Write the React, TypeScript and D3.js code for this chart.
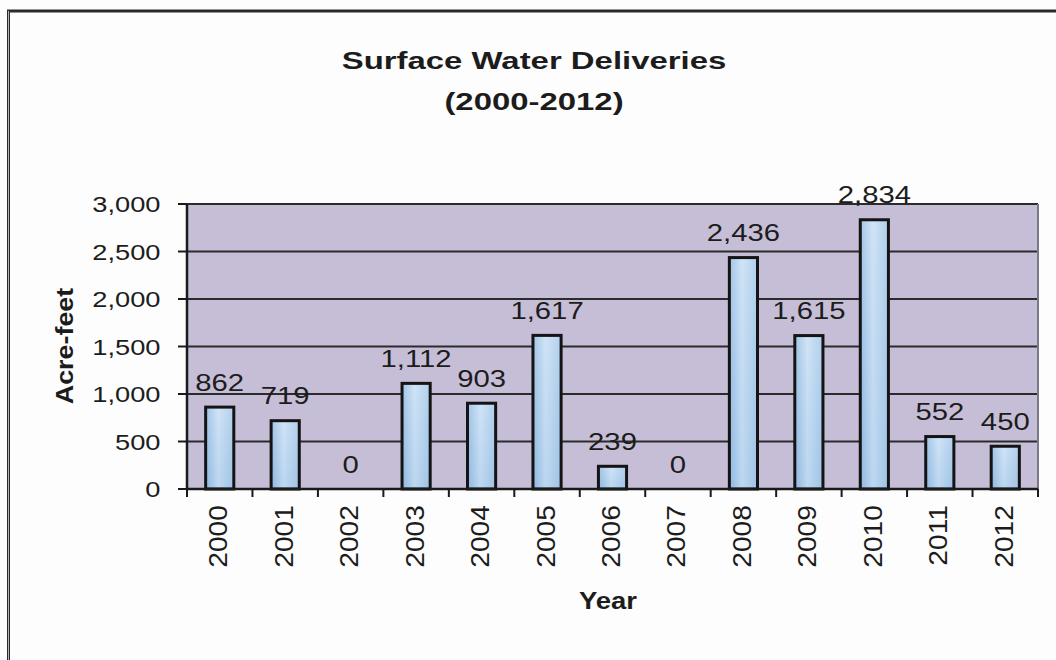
import React from 'react';
import * as d3 from 'd3';

const years = ['2000', '2001', '2002', '2003', '2004', '2005', '2006', '2007', '2008', '2009', '2010', '2011', '2012'];
const deliveries = [862, 719, 0, 1112, 903, 1617, 239, 0, 2436, 1615, 2834, 552, 450];
const yTickValues = [0, 500, 1000, 1500, 2000, 2500, 3000];
const titleLines = ['Surface Water Deliveries', '(2000-2012)'];
const yAxisTitle = 'Acre-feet';
const xAxisTitle = 'Year';

const FONT = '"Liberation Sans", Arial, sans-serif';
const INK = '#1c1c1c';

export default function App() {
  const W = 1056;
  const H = 660;
  const left = 187;
  const right = 1038;
  const top = 204;
  const bottom = 489;

  const x = d3.scaleBand<string>().domain(years).range([left, right]).paddingInner(0.57).paddingOuter(0.285);
  const y = d3.scaleLinear().domain([0, 3000]).range([bottom, top]);
  const fmt = d3.format(',');
  const step = x.step();
  const bw = x.bandwidth();
  const gap = (step - bw) / 2;
  const boundaries = years.map((yr) => (x(yr) as number) - gap).concat([right]);

  return (
    <svg width={W} height={H} style={{ position: 'absolute', left: 0, top: 0, background: '#fdfdfd' }}>
      <defs>
        <linearGradient id="barFill" x1="0" y1="0" x2="1" y2="0">
          <stop offset="0%" stopColor="#93bbe3" />
          <stop offset="45%" stopColor="#c8dff4" />
          <stop offset="100%" stopColor="#a4c7e9" />
        </linearGradient>
        <linearGradient id="barShade" x1="0" y1="0" x2="0" y2="1">
          <stop offset="0%" stopColor="#ffffff" stopOpacity="0.15" />
          <stop offset="100%" stopColor="#6f9fd0" stopOpacity="0.12" />
        </linearGradient>
      </defs>
      <rect x={0} y={0} width={W} height={H} fill="#fdfdfd" />
      {/* outer frame */}
      <rect x={8.5} y={11} width={W + 20} height={H + 20} fill="none" stroke="#2a2a2a" strokeWidth={3} />
      <line x1={8.5} y1={11} x2={8.5} y2={H} stroke="#d8d8e8" strokeWidth={0.8} />

      {/* title */}
      {titleLines.map((t, i) => (
        <text
          key={t}
          transform={`translate(534, ${69 + i * 40.5}) scale(1.4, 1)`}
          textAnchor="middle"
          fontFamily={FONT}
          fontWeight="bold"
          fontSize={23.5}
          fill={INK}
        >
          {t}
        </text>
      ))}

      {/* plot background */}
      <rect x={left} y={top} width={right - left} height={bottom - top} fill="#c6bed7" />

      {/* gridlines */}
      {yTickValues.map((v) => (
        <line key={'g' + v} x1={left} x2={right} y1={y(v)} y2={y(v)} stroke="#2b2b2b" strokeWidth={2} />
      ))}
      {/* right border */}
      <line x1={right} x2={right} y1={top} y2={bottom} stroke="#7a7a86" strokeWidth={2} />

      {/* bars */}
      {years.map((yr, i) => {
        const v = deliveries[i];
        if (v <= 0) return null;
        const bx = x(yr) as number;
        const by = y(v);
        return (
          <g key={'b' + yr}>
            <rect x={bx} y={by} width={bw} height={bottom - by} fill="url(#barFill)" />
            <rect x={bx} y={by} width={bw} height={bottom - by} fill="url(#barShade)" stroke="#141414" strokeWidth={3} />
          </g>
        );
      })}

      {/* y axis */}
      <line x1={left} x2={left} y1={top} y2={bottom} stroke="#1a1a1a" strokeWidth={2.5} />
      {yTickValues.map((v) => (
        <g key={'yt' + v}>
          <line x1={left - 9} x2={left} y1={y(v)} y2={y(v)} stroke="#1a1a1a" strokeWidth={2} />
          <text
            transform={`translate(160.5, ${y(v) + 8}) scale(1.24, 1)`}
            textAnchor="end"
            fontFamily={FONT}
            fontSize={22}
            fill={INK}
          >
            {fmt(v)}
          </text>
        </g>
      ))}

      {/* x axis */}
      <line x1={left} x2={right} y1={bottom} y2={bottom} stroke="#1a1a1a" strokeWidth={2.5} />
      {boundaries.map((bx, i) => (
        <line key={'xt' + i} x1={bx} x2={bx} y1={bottom} y2={bottom + 8} stroke="#1a1a1a" strokeWidth={2} />
      ))}
      {years.map((yr) => {
        const cx = (x(yr) as number) + bw / 2;
        return (
          <text
            key={'xl' + yr}
            transform={`translate(${cx - 1}, 505) rotate(-90) scale(1.13, 1)`}
            y={8.5}
            textAnchor="end"
            fontFamily={FONT}
            fontSize={25}
            fill={INK}
          >
            {yr}
          </text>
        );
      })}

      {/* data labels */}
      {years.map((yr, i) => {
        const cx = (x(yr) as number) + bw / 2;
        return (
          <text
            key={'dl' + yr}
            transform={`translate(${cx}, ${y(deliveries[i]) - 16.5}) scale(1.22, 1)`}
            textAnchor="middle"
            fontFamily={FONT}
            fontSize={24}
            fill={INK}
          >
            {fmt(deliveries[i])}
          </text>
        );
      })}

      {/* axis titles */}
      <text
        transform="translate(64, 346) rotate(-90) scale(1.12, 1)"
        y={9}
        textAnchor="middle"
        fontFamily={FONT}
        fontWeight="bold"
        fontSize={24}
        fill={INK}
      >
        {yAxisTitle}
      </text>
      <text
        transform="translate(608, 609) scale(1.17, 1)"
        textAnchor="middle"
        fontFamily={FONT}
        fontWeight="bold"
        fontSize={23.5}
        fill={INK}
      >
        {xAxisTitle}
      </text>
    </svg>
  );
}
